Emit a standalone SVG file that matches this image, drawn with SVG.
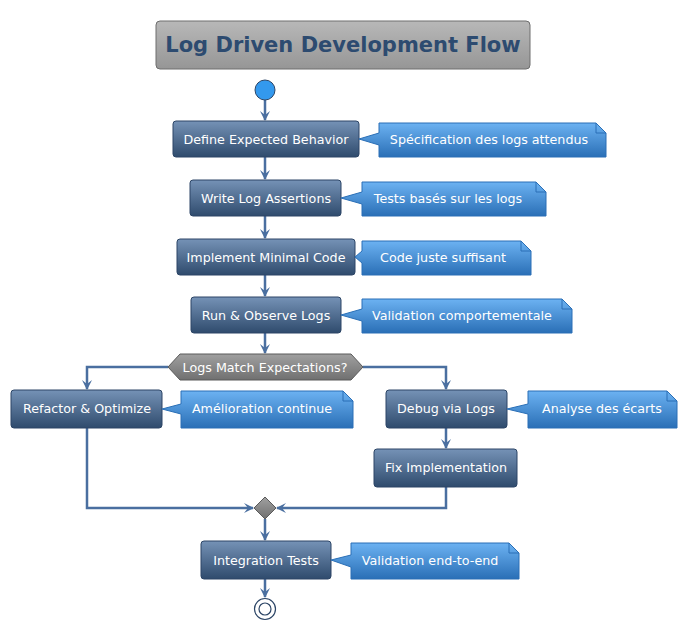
<svg xmlns="http://www.w3.org/2000/svg" width="687" height="633" viewBox="0 0 687 633">
<defs>
<linearGradient id="gb" x1="0" y1="0" x2="0" y2="1"><stop offset="0" stop-color="#7592b6"/><stop offset="1" stop-color="#2f4b6d"/></linearGradient>
<linearGradient id="gn" x1="0" y1="0" x2="0" y2="1"><stop offset="0" stop-color="#6cb2f2"/><stop offset="1" stop-color="#2a6fb6"/></linearGradient>
<linearGradient id="gt" x1="0" y1="0" x2="0" y2="1"><stop offset="0" stop-color="#b8b8b8"/><stop offset="1" stop-color="#969696"/></linearGradient>
<linearGradient id="gh" x1="0" y1="0" x2="0" y2="1"><stop offset="0" stop-color="#a0a0a0"/><stop offset="1" stop-color="#707070"/></linearGradient>
<marker id="ar" viewBox="0 0 10 10" refX="9" refY="5" markerWidth="10" markerHeight="10" markerUnits="userSpaceOnUse" orient="auto"><path d="M0,0 L10,5 L0,10 L4,5 Z" fill="#4a6fa0"/></marker>
</defs>
<style>
.box{fill:url(#gb);stroke:#2c4566;stroke-width:1}
.note{fill:url(#gn);stroke:#2a6fb6;stroke-width:1}
.t{font-family:"DejaVu Sans",sans-serif;font-size:12.7px;fill:#ffffff;text-anchor:middle}
.c{fill:none;stroke:#4a6fa0;stroke-width:2.5}
</style>
<g id="title"><rect x="156" y="21" width="374" height="48" rx="4" fill="url(#gt)" stroke="#6e6e6e"/>
<text x="343" y="52" font-family="DejaVu Sans,sans-serif" font-size="21" font-weight="bold" fill="#2d4b70" text-anchor="middle">Log Driven Development Flow</text></g>
<g id="connectors">
<path class="c" d="M265,100 V120" marker-end="url(#ar)"/>
<path class="c" d="M265,157 V179" marker-end="url(#ar)"/>
<path class="c" d="M265,216 V238" marker-end="url(#ar)"/>
<path class="c" d="M265,275 V296" marker-end="url(#ar)"/>
<path class="c" d="M265,333 V353" marker-end="url(#ar)"/>
<path class="c" d="M168,367 H87 V389" marker-end="url(#ar)"/>
<path class="c" d="M363,367 H446 V389" marker-end="url(#ar)"/>
<path class="c" d="M446,428 V448" marker-end="url(#ar)"/>
<path class="c" d="M87,428 V508 H253" marker-end="url(#ar)"/>
<path class="c" d="M446,487 V508 H277" marker-end="url(#ar)"/>
<path class="c" d="M265,519 V540" marker-end="url(#ar)"/>
<path class="c" d="M265,579 V597" marker-end="url(#ar)"/>
</g>
<g id="start"><circle cx="265" cy="90" r="10" fill="#3399ee" stroke="#2c4566"/></g>
<g id="n1"><rect class="box" x="173" y="121" width="186" height="36" rx="3"/><text class="t" x="266" y="144">Define Expected Behavior</text>
<path class="note" d="M379,123 H596 L606,133 V157 H379 V145 L359,139 L379,133 Z"/><path d="M596,123 V133 H606" fill="none" stroke="#2a6fb6"/><text class="t" x="489" y="144">Spécification des logs attendus</text></g>
<g id="n2"><rect class="box" x="190" y="180" width="151" height="36" rx="3"/><text class="t" x="266" y="203">Write Log Assertions</text>
<path class="note" d="M362,182 H536 L546,192 V216 H362 V204 L341,198 L362,192 Z"/><path d="M536,182 V192 H546" fill="none" stroke="#2a6fb6"/><text class="t" x="448" y="203">Tests basés sur les logs</text></g>
<g id="n3"><rect class="box" x="177" y="239" width="178" height="36" rx="3"/><text class="t" x="266" y="262">Implement Minimal Code</text>
<path class="note" d="M362,241 H521 L531,251 V275 H362 V263 L355,257 L362,251 Z"/><path d="M521,241 V251 H531" fill="none" stroke="#2a6fb6"/><text class="t" x="443" y="262">Code juste suffisant</text></g>
<g id="n4"><rect class="box" x="191" y="297" width="150" height="36" rx="3"/><text class="t" x="266" y="320">Run &amp; Observe Logs</text>
<path class="note" d="M362,299 H562 L572,309 V333 H362 V321 L341,315 L362,309 Z"/><path d="M562,299 V309 H572" fill="none" stroke="#2a6fb6"/><text class="t" x="462" y="320">Validation comportementale</text></g>
<g id="decision"><path d="M168,367 L180,354 H351 L363,367 L351,380 H180 Z" fill="url(#gh)" stroke="#5a5a5a"/><text class="t" x="265" y="372">Logs Match Expectations?</text></g>
<g id="n5"><rect class="box" x="11" y="390" width="151" height="38" rx="3"/><text class="t" x="87" y="413">Refactor &amp; Optimize</text>
<path class="note" d="M181,391 H343 L353,401 V428 H181 V414 L162,409 L181,404 Z"/><path d="M343,391 V401 H353" fill="none" stroke="#2a6fb6"/><text class="t" x="262" y="413">Amélioration continue</text></g>
<g id="n6"><rect class="box" x="386" y="390" width="121" height="38" rx="3"/><text class="t" x="446" y="413">Debug via Logs</text>
<path class="note" d="M528,391 H667 L677,401 V428 H528 V414 L507,409 L528,404 Z"/><path d="M667,391 V401 H677" fill="none" stroke="#2a6fb6"/><text class="t" x="602" y="413">Analyse des écarts</text></g>
<g id="n7"><rect class="box" x="374" y="449" width="143" height="38" rx="3"/><text class="t" x="446" y="472">Fix Implementation</text></g>
<g id="merge"><path d="M265,497 L276,508 L265,519 L254,508 Z" fill="url(#gh)" stroke="#5a5a5a"/></g>
<g id="n8"><rect class="box" x="201" y="541" width="130" height="38" rx="3"/><text class="t" x="266" y="565">Integration Tests</text>
<path class="note" d="M351,543 H509 L519,553 V579 H351 V567 L331,560 L351,555 Z"/><path d="M509,543 V553 H519" fill="none" stroke="#2a6fb6"/><text class="t" x="430" y="565">Validation end-to-end</text></g>
<g id="end"><circle cx="265" cy="609" r="10.5" fill="none" stroke="#2c4566" stroke-width="1.2"/><circle cx="265" cy="609" r="6" fill="none" stroke="#2c4566" stroke-width="1.2"/></g>
</svg>
